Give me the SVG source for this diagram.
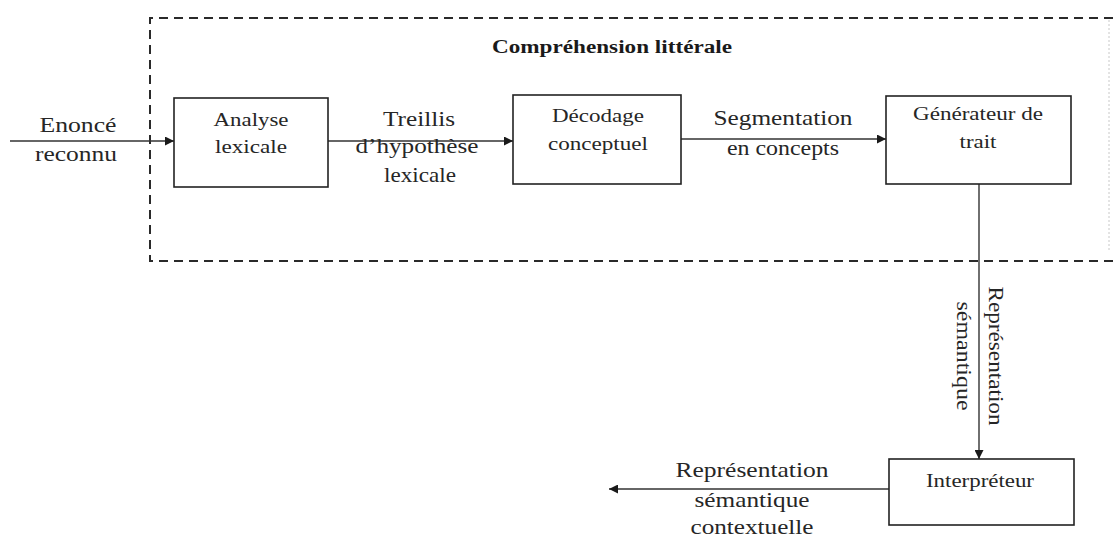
<svg xmlns="http://www.w3.org/2000/svg" width="1113" height="539" viewBox="0 0 1113 539">
  <style>
    .bg { fill: #ffffff; }
    .frame { fill: none; stroke: #2a2a2a; stroke-width: 2; stroke-dasharray: 9 6; }
    .frame-edge { fill: none; stroke: #c8c8c8; stroke-width: 1; stroke-dasharray: 2 2; }
    .box { fill: #ffffff; stroke: #222222; stroke-width: 1.6; }
    .wire { fill: none; stroke: #333333; stroke-width: 1.4; }
    .lbl { font-family: "Liberation Serif", "Times New Roman", serif; font-size: 21px; fill: #262626; text-anchor: middle; }
    .inbox { font-family: "Liberation Serif", "Times New Roman", serif; font-size: 19px; fill: #262626; text-anchor: middle; }
    .title { font-family: "Liberation Serif", "Times New Roman", serif; font-size: 18px; font-weight: bold; fill: #1a1a1a; text-anchor: middle; }
  </style>
  <defs>
    <marker id="arrow" viewBox="0 0 10 10" refX="10" refY="5" markerWidth="10" markerHeight="9" markerUnits="userSpaceOnUse" orient="auto">
      <path d="M0,0 L10,5 L0,10 Z" fill="#1a1a1a"/>
    </marker>
  </defs>

  <rect class="bg" x="0" y="0" width="1113" height="539"/>

  <!-- literal comprehension stage: dashed enclosure -->
  <g id="comprehension-litterale">
    <path class="frame" d="M1113,18 L150,18 L150,261 L1113,261"/>
    <path class="frame-edge" d="M1109,20 L1109,252"/>
    <text class="title" x="612" y="53" textLength="240" lengthAdjust="spacingAndGlyphs">Compréhension littérale</text>
  </g>

  <!-- connectors -->
  <g id="connectors">
    <line class="wire" x1="10" y1="141" x2="174" y2="141" marker-end="url(#arrow)"/>
    <line class="wire" x1="328" y1="141" x2="513" y2="141" marker-end="url(#arrow)"/>
    <line class="wire" x1="681" y1="139" x2="886" y2="139" marker-end="url(#arrow)"/>
    <line class="wire" x1="979" y1="184" x2="979" y2="459" marker-end="url(#arrow)"/>
    <line class="wire" x1="889" y1="489" x2="609" y2="489" marker-end="url(#arrow)"/>

    <g id="label-enonce">
      <text class="lbl" x="78" y="132" textLength="77" lengthAdjust="spacingAndGlyphs">Enoncé</text>
      <text class="lbl" x="76" y="161" textLength="82" lengthAdjust="spacingAndGlyphs">reconnu</text>
    </g>
    <g id="label-treillis">
      <text class="lbl" x="419" y="126" textLength="72" lengthAdjust="spacingAndGlyphs">Treillis</text>
      <text class="lbl" x="417" y="153" textLength="123" lengthAdjust="spacingAndGlyphs">d’hypothèse</text>
      <text class="lbl" x="420" y="182" textLength="72" lengthAdjust="spacingAndGlyphs">lexicale</text>
    </g>
    <g id="label-segmentation">
      <text class="lbl" x="783" y="125" textLength="139" lengthAdjust="spacingAndGlyphs">Segmentation</text>
      <text class="lbl" x="783" y="155" textLength="112" lengthAdjust="spacingAndGlyphs">en concepts</text>
    </g>
    <g id="label-representation" transform="translate(989,356) rotate(90)">
      <text class="lbl" x="0" y="0" textLength="139" lengthAdjust="spacingAndGlyphs">Représentation</text>
      <text class="lbl" x="0" y="32" textLength="109" lengthAdjust="spacingAndGlyphs">sémantique</text>
    </g>
    <g id="label-contextuelle">
      <text class="lbl" x="752" y="477" textLength="153" lengthAdjust="spacingAndGlyphs">Représentation</text>
      <text class="lbl" x="752" y="507" textLength="115" lengthAdjust="spacingAndGlyphs">sémantique</text>
      <text class="lbl" x="752" y="534" textLength="123" lengthAdjust="spacingAndGlyphs">contextuelle</text>
    </g>
  </g>

  <!-- processing nodes -->
  <g id="analyse-lexicale">
    <rect class="box" x="174" y="98" width="154" height="89"/>
    <text class="inbox" x="251" y="126" textLength="75" lengthAdjust="spacingAndGlyphs">Analyse</text>
    <text class="inbox" x="251" y="153" textLength="72" lengthAdjust="spacingAndGlyphs">lexicale</text>
  </g>

  <g id="decodage-conceptuel">
    <rect class="box" x="513" y="95" width="168" height="89"/>
    <text class="inbox" x="598" y="122" textLength="92" lengthAdjust="spacingAndGlyphs">Décodage</text>
    <text class="inbox" x="598" y="150" textLength="100" lengthAdjust="spacingAndGlyphs">conceptuel</text>
  </g>

  <g id="generateur-de-trait">
    <rect class="box" x="886" y="96" width="185" height="88"/>
    <text class="inbox" x="978" y="120" textLength="130" lengthAdjust="spacingAndGlyphs">Générateur de</text>
    <text class="inbox" x="978" y="148" textLength="37" lengthAdjust="spacingAndGlyphs">trait</text>
  </g>

  <g id="interpreteur">
    <rect class="box" x="889" y="459" width="185" height="66"/>
    <text class="inbox" x="980" y="487" textLength="108" lengthAdjust="spacingAndGlyphs">Interpréteur</text>
  </g>
</svg>
